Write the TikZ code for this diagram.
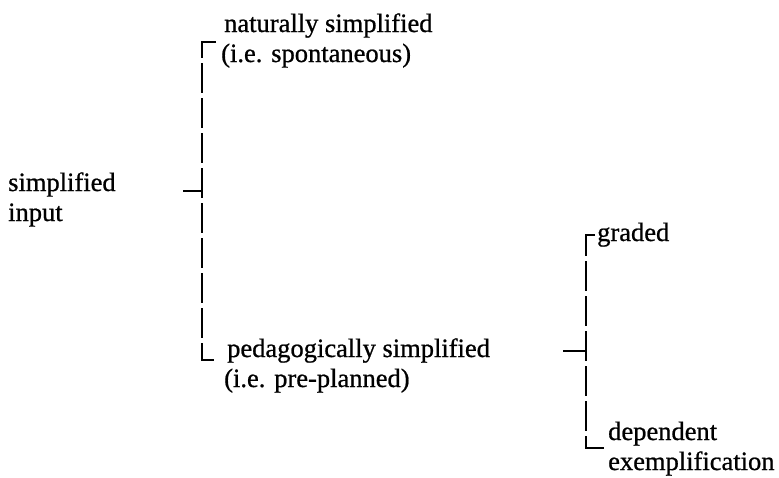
\documentclass[tikz,border=0pt]{standalone}
\usepackage{fontspec}
\setmainfont{Liberation Serif}
\newfontfamily\scanfont[FakeBold=0.8]{Liberation Serif}
\usetikzlibrary{positioning}

\begin{document}
\begin{tikzpicture}[x=1pt,y=-1pt]
  \tikzset{lbl/.style={anchor=base west,inner sep=0pt,align=left,font=\scanfont\fontsize{26.5}{30}\selectfont}}
  \tikzset{brk/.style={line width=1.8pt,dash pattern=on 30pt off 5pt}}
  \useasboundingbox (0,0) rectangle (779,477);
  % labels (anchored at the baseline of their last line)
  \node[lbl] (input) at (8,221) {simplified\\input};
  \node[lbl] (natural) at (224,62) {naturally simplified\\\hspace*{-3pt}(i.e. spontaneous)};
  \node[lbl] (pedag) at (227,387) {pedagogically simplified\\\hspace*{-3pt}(i.e. pre-planned)};
  \node[lbl] (graded) at (597,241) {graded};
  \node[lbl] (depend) at (608,470) {dependent\\exemplification};
  % first bracket
  \coordinate (ltop) at (202,42);
  \coordinate (lmid) at (202,191);
  \coordinate (lbot) at (202,360);
  \coordinate (lfoot) at (183,191);
  \draw[brk] ([xshift=-8pt]natural.base west |- ltop) -- (ltop) -- (lbot) -- ([xshift=-13pt]pedag.base west |- lbot);
  \draw[line width=1.8pt] (lfoot) -- (lmid);
  % second bracket
  \coordinate (rtop) at (586,235);
  \coordinate (rmid) at (586,351);
  \coordinate (rbot) at (586,448);
  \coordinate (rfoot) at (563,351);
  \draw[brk] ([xshift=-2pt]graded.base west |- rtop) -- (rtop) -- (rbot) -- ([xshift=-3pt]depend.base west |- rbot);
  \draw[line width=1.8pt] (rfoot) -- (rmid);
\end{tikzpicture}
\end{document}
